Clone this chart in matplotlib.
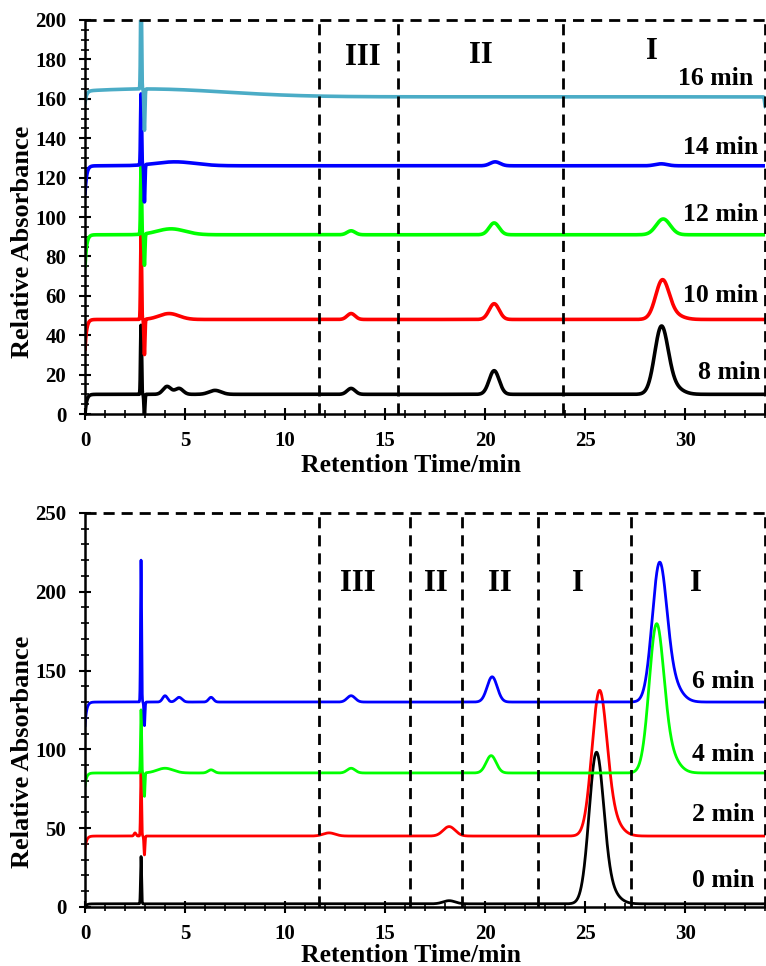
import numpy as np
import matplotlib.pyplot as plt
from matplotlib.ticker import MultipleLocator

plt.rcParams['font.family'] = ['Liberation Serif', 'DejaVu Serif']
plt.rcParams['font.weight'] = 'bold'

# ---- data ----
# each trace: baseline, start dip, spike up/down (x, value), peaks (centre, height above baseline, sigma)
top_names = ['8 min', '10 min', '12 min', '14 min', '16 min']
top_colors = ['#000000', '#FF0000', '#00FF00', '#0000FF', '#4BACC6']
top_base = [10, 48, 91, 126, 161]
top_start = [0, 33, 75, 112, 155]
top_spike_up = [45, 92, 125, 162, 215]
top_spike_dn = [0, 30, 75, 107, 140]
top_peaks = [
    [(4.1, 4, 0.2), (4.7, 3, 0.2), (6.5, 2, 0.3), (13.3, 3, 0.2), (20.45, 12, 0.25), (28.8, 31, 0.33), (29.2, 5, 0.5)],
    [(4.2, 3, 0.5), (13.3, 3, 0.2), (20.45, 8, 0.25), (28.85, 18, 0.33), (29.25, 3, 0.5)],
    [(4.3, 3, 0.7), (13.3, 2, 0.2), (20.45, 6, 0.25), (28.9, 8, 0.35)],
    [(4.5, 2, 1.0), (20.5, 2, 0.25), (28.8, 1, 0.3)],
    [(3.0, 4, 4.0)],
]
top_label_x = [33.75, 33.65, 33.65, 33.65, 33.4]
top_label_y = [21, 60, 101.5, 135.5, 170.5]

bot_names = ['0 min', '2 min', '4 min', '6 min']
bot_colors = ['#000000', '#FF0000', '#00FF00', '#0000FF']
bot_base = [2, 45, 85, 130]
bot_start = [0, 37, 77, 115]
bot_spike_up = [32, 85, 125, 220]
bot_spike_dn = [2, 33, 70, 115]
bot_peaks = [
    [(18.2, 2, 0.3), (25.55, 90, 0.36), (26.05, 10, 0.5)],
    [(2.5, 2, 0.05), (12.2, 2, 0.3), (18.2, 6, 0.3), (25.7, 85, 0.37), (26.2, 12, 0.5)],
    [(4.0, 3, 0.4), (6.3, 2, 0.15), (13.3, 3, 0.2), (20.3, 11, 0.25), (28.55, 86, 0.36), (29.05, 14, 0.5)],
    [(4.0, 4, 0.12), (4.7, 3, 0.15), (6.3, 3, 0.12), (13.3, 4, 0.2), (20.35, 16, 0.25), (28.7, 80, 0.36), (29.2, 14, 0.5)],
]
bot_label_x = 33.45
bot_label_y = [17, 58.5, 96.7, 143]

top_cuts = [11.7, 15.65, 23.9]
top_regions = [(13.9, 181, 'III'), (19.8, 182, 'II'), (28.35, 184, 'I')]
bot_cuts = [11.7, 16.25, 18.85, 22.65, 27.3]
bot_regions = [(13.65, 205, 'III'), (17.55, 205, 'II'), (20.75, 205, 'II'), (24.65, 205, 'I'), (30.55, 205, 'I')]

x = np.arange(0, 34.001, 0.004)


def trace(base, start, up, dn, peaks, end_drop=0):
    y = base - (base - start) * np.exp(-x / 0.08)
    y = y + (up - base) * np.exp(-0.5 * ((x - 2.8) / 0.025) ** 2)
    y = y + (dn - base) * np.exp(-0.5 * ((x - 2.97) / 0.025) ** 2)
    for c, h, s in peaks:
        y = y + h * np.exp(-0.5 * ((x - c) / s) ** 2)
    y = y - end_drop * np.exp(-0.5 * ((x - 34) / 0.03) ** 2)
    return y


def style(ax, ymax, ymajor, yminor, cuts):
    ax.set_xlim(0, 34)
    ax.set_ylim(0, ymax)
    ax.xaxis.set_major_locator(MultipleLocator(5))
    ax.xaxis.set_minor_locator(MultipleLocator(1))
    ax.yaxis.set_major_locator(MultipleLocator(ymajor))
    ax.yaxis.set_minor_locator(MultipleLocator(yminor))
    ax.tick_params(which='major', direction='inout', length=9, width=1.5, labelsize=15)
    ax.tick_params(which='minor', direction='inout', length=6, width=1.2)
    ax.tick_params(axis='x', which='major', pad=8)
    ax.tick_params(axis='y', which='major', pad=9)
    for t in ax.get_xticklabels() + ax.get_yticklabels():
        t.set_fontweight('bold')
    for s in ['left', 'bottom']:
        ax.spines[s].set_linewidth(1.8)
    for s in ['top', 'right']:
        ax.spines[s].set_visible(False)
    ax.axhline(ymax, color='k', lw=2, ls=(0, (4, 2.5)), clip_on=False, zorder=5)
    for c in cuts + [34]:
        ax.axvline(c, color='k', lw=2, ls=(0, (4, 2.5)), clip_on=False, zorder=5)


fig = plt.figure(figsize=(7.66, 9.66), dpi=100)
ax1 = fig.add_axes([0.111, 0.5714, 0.888, 0.4079])
ax2 = fig.add_axes([0.111, 0.0611, 0.888, 0.408])

for i in range(len(top_names)):
    drop = 5 if i == 4 else 0
    y = trace(top_base[i], top_start[i], top_spike_up[i], top_spike_dn[i], top_peaks[i], drop)
    ax1.plot(x, y, color=top_colors[i], lw=2.6)
    ax1.text(top_label_x[i], top_label_y[i], top_names[i], ha='right', va='center',
             fontsize=18.5, fontweight='bold')
for xr, yr, s in top_regions:
    ax1.text(xr, yr, s, ha='center', va='center', fontsize=22, fontweight='bold')
style(ax1, 200, 20, 5, top_cuts)

for i in range(len(bot_names)):
    y = trace(bot_base[i], bot_start[i], bot_spike_up[i], bot_spike_dn[i], bot_peaks[i])
    ax2.plot(x, y, color=bot_colors[i], lw=2.0)
    ax2.text(bot_label_x, bot_label_y[i], bot_names[i], ha='right', va='center',
             fontsize=18.5, fontweight='bold')
for xr, yr, s in bot_regions:
    ax2.text(xr, yr, s, ha='center', va='center', fontsize=22, fontweight='bold')
style(ax2, 250, 50, 10, bot_cuts)

ax1.text(0.479, -51 / 394, 'Retention Time/min', transform=ax1.transAxes, ha='center', va='center',
         fontsize=18.5, fontweight='bold')
ax2.text(0.479, -49 / 394, 'Retention Time/min', transform=ax2.transAxes, ha='center', va='center',
         fontsize=18.5, fontweight='bold')
fig.text(0.029, 1 - 242 / 966, 'Relative Absorbance', rotation=90, ha='center', va='center',
         fontsize=19, fontweight='bold')
fig.text(0.029, 1 - 752 / 966, 'Relative Absorbance', rotation=90, ha='center', va='center',
         fontsize=19, fontweight='bold')

fig.savefig('out.png', dpi=100)
